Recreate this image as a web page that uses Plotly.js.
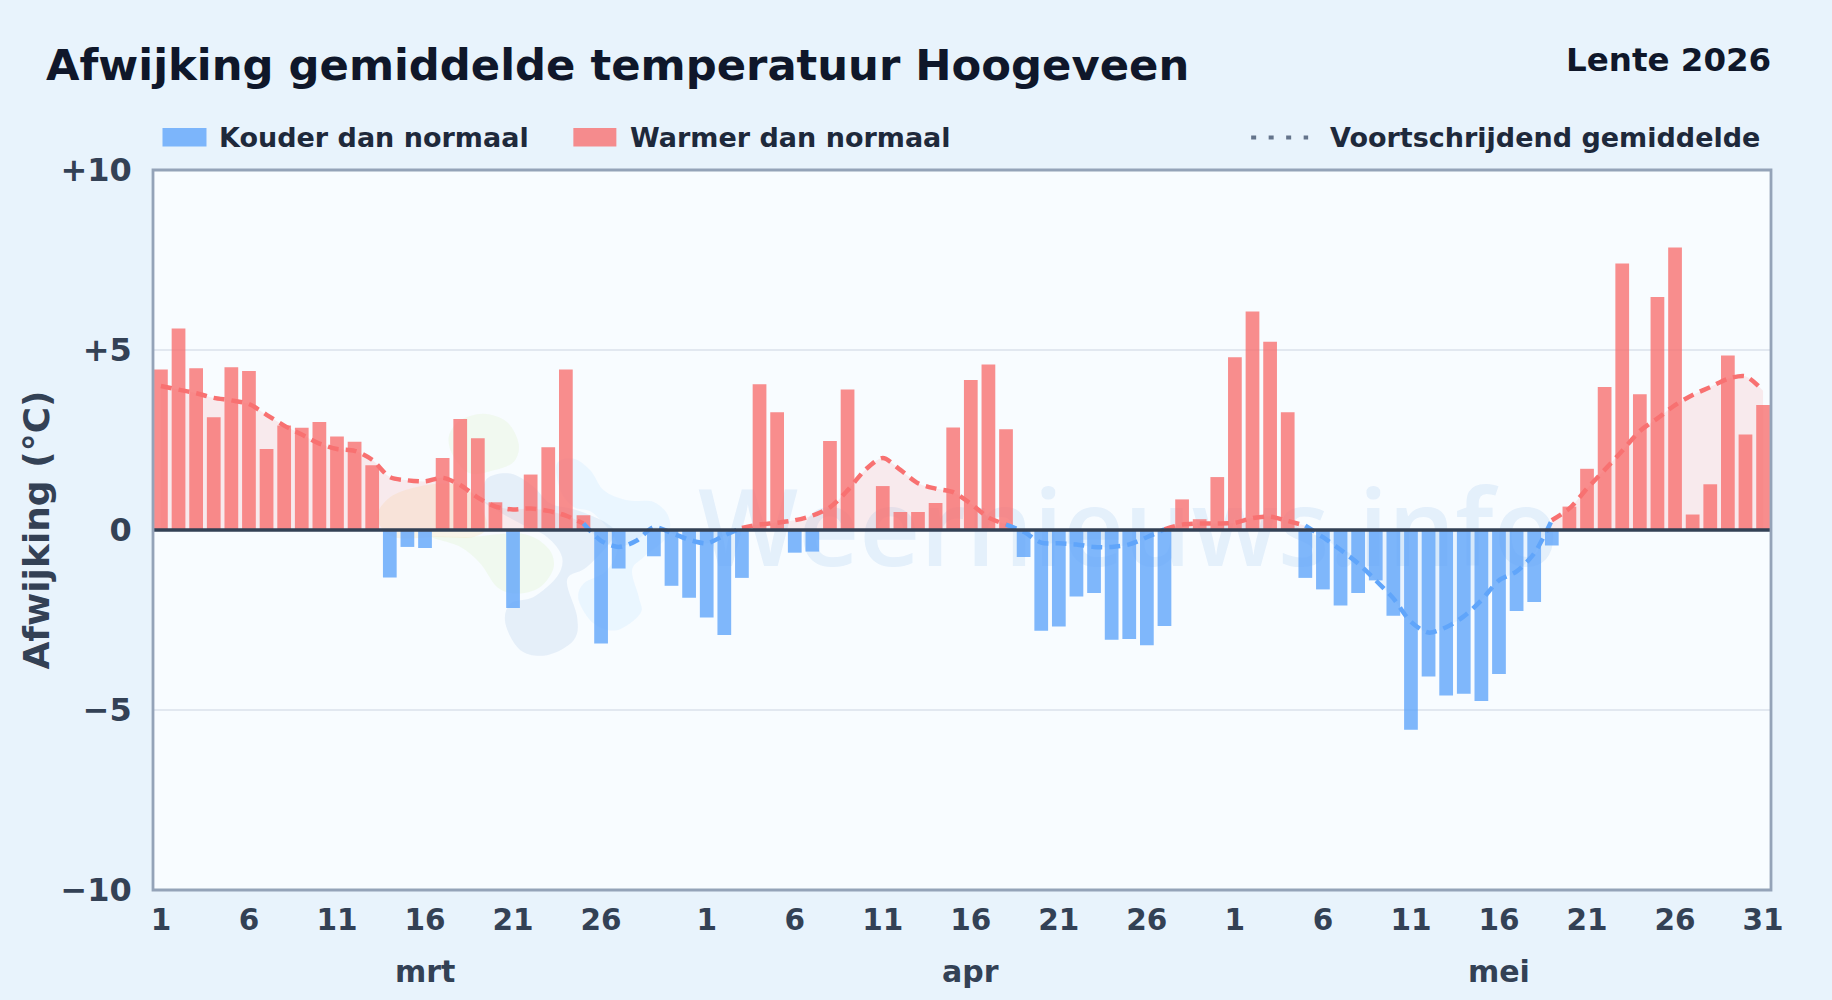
<!DOCTYPE html>
<html><head><meta charset="utf-8">
<script src="https://cdn.plot.ly/plotly-3.0.1.min.js"></script>
<style>html,body{margin:0;padding:0;background:#e8f3fc}#c{width:1832px;height:1000px}</style>
</head><body><div id="c"></div>
<script>
// Daily temperature deviation (°C), 1 March – 31 May
const anomalies = [
 4.46,5.60,4.49,3.13,4.52,4.42,2.25,2.90,2.84,3.00,2.60,2.45,1.80,-1.32,-0.47,-0.50,2.00,3.08,2.55,0.77,-2.17,1.54,2.30,4.46,0.41,-3.15,-1.07,0,-0.73,-1.55,-1.88,
 -2.43,-2.92,-1.33,4.05,3.27,-0.63,-0.60,2.47,3.90,0,1.22,0.50,0.50,0.75,2.85,4.17,4.60,2.80,-0.75,-2.80,-2.68,-1.85,-1.75,-3.05,-3.03,-3.20,-2.67,0.85,0.30,1.47,
 4.80,6.07,5.23,3.27,-1.33,-1.65,-2.10,-1.75,-1.40,-2.38,-5.55,-4.07,-4.60,-4.55,-4.75,-4.00,-2.25,-2.00,-0.43,0.65,1.70,3.97,7.40,3.77,6.47,7.85,0.43,1.27,4.85,2.65,3.47];
// Moving average read per day
const movingAvg = [
 4.0,3.9,3.8,3.67,3.6,3.5,3.2,2.9,2.65,2.4,2.25,2.2,1.95,1.47,1.38,1.35,1.45,1.25,0.9,0.65,0.57,0.6,0.53,0.4,0.18,-0.3,-0.47,-0.3,0.08,-0.08,-0.27,
 -0.37,-0.15,0.06,0.15,0.2,0.27,0.4,0.63,1.1,1.67,2.0,1.67,1.3,1.15,1.05,0.73,0.35,0.15,-0.05,-0.35,-0.37,-0.4,-0.47,-0.47,-0.4,-0.2,0.02,0.15,0.18,0.18,
 0.2,0.33,0.37,0.25,0.12,-0.2,-0.55,-0.93,-1.4,-1.9,-2.55,-2.85,-2.7,-2.4,-1.95,-1.4,-1.15,-0.65,0.27,0.6,1.15,1.67,2.2,2.75,3.1,3.47,3.75,3.97,4.2,4.27,3.87];
const xTickVals = [0,5,10,15,20,25,31,36,41,46,51,56,61,66,71,76,81,86,91];
const xTickText = ['1','6','11','16','21','26','1','6','11','16','21','26','1','6','11','16','21','26','31'];
const yTickVals = [10,5,0,-5,-10];
const yTickText = ['+10','+5','0','−5','−10'];
const monthNames = ['mrt','apr','mei'];
const monthCenters = [15,46,76];
const legendLabels = ['Kouder dan normaal','Warmer dan normaal','Voortschrijdend gemiddelde'];

const COLD='#60a5fa', WARM='#f87171';
const idx = anomalies.map((_,i)=>i);
const W=1832,H=1000,L=152.5,R=1771,T=169.5,B=890;
const px=x=>(x-L)/(R-L), py=y=>(B-y)/(B-T);
const F='"DejaVu Sans", sans-serif';

// split average into coloured runs: a step is blue when either end is below zero
function runs(test){
  const out=[];let cur=null;
  for(let i=0;i<movingAvg.length-1;i++){
    if(test(movingAvg[i],movingAvg[i+1])){
      if(!cur){cur={x:[i],y:[movingAvg[i]]};out.push(cur);}
      cur.x.push(i+1);cur.y.push(movingAvg[i+1]);
    } else cur=null;
  }
  return out;
}
const avgTrace=(r,color,fill)=>({type:'scatter',mode:'lines',x:r.x,y:r.y,fill:'tozeroy',fillcolor:fill,line:{color,width:4.5,shape:'spline',smoothing:0.8,dash:'11px,7px'},showlegend:false,hoverinfo:'skip',opacity:0.95});

const traces=[
 {type:'bar',x:idx,y:anomalies.map(v=>v<0?v:null),width:0.78,marker:{color:COLD,opacity:0.8,line:{width:0}},showlegend:false},
 {type:'bar',x:idx,y:anomalies.map(v=>v>=0?v:null),width:0.78,marker:{color:WARM,opacity:0.8,line:{width:0}},showlegend:false},
 ...runs((a,b)=>a>=0&&b>=0).map(r=>avgTrace(r,WARM,'rgba(248,113,113,0.13)')),
 ...runs((a,b)=>a<0||b<0).map(r=>avgTrace(r,COLD,'rgba(96,165,250,0.10)'))
];

// watermark logo: smooth closed blobs, outlines given in page pixels via a zoom-origin helper
const z=([a,b])=>[360+a/3,390+b/3];
function blob(zpts,fill){
  const p=zpts.map(z),n=p.length,f=q=>px(q[0]).toFixed(4)+','+py(q[1]).toFixed(4);
  let d='M'+f(p[0]);
  for(let i=0;i<n;i++){
    const a=p[(i-1+n)%n],b=p[i],c=p[(i+1)%n],e=p[(i+2)%n];
    const c1=[b[0]+(c[0]-a[0])/6,b[1]+(c[1]-a[1])/6],c2=[c[0]-(e[0]-b[0])/6,c[1]-(e[1]-b[1])/6];
    d+=' C'+f(c1)+' '+f(c2)+' '+f(c);
  }
  return {type:'path',xref:'paper',yref:'paper',layer:'below',fillcolor:fill,line:{width:0},path:d+' Z'};
}
const shapes=[
 blob([[590,220],[640,205],[690,240],[730,300],[800,330],[880,335],[925,380],[920,440],[850,500],[815,540],[835,620],[840,670],[770,720],[700,700],[655,630],[670,580],[740,540],[770,460],[700,370],[640,350],[600,300]],'rgba(205,232,255,0.32)'),
 blob([[370,330],[380,265],[450,250],[520,290],[570,340],[650,360],[740,400],[760,440],[680,530],[620,570],[650,680],[640,750],[560,795],[480,780],[435,700],[450,640],[520,620],[590,560],[605,500],[560,440],[480,400],[410,360]],'rgba(185,210,235,0.30)'),
 blob([[265,140],[300,90],[370,70],[440,95],[475,160],[460,215],[400,240],[330,250],[280,200]],'rgba(225,242,205,0.30)'),
 blob([[215,440],[330,440],[480,430],[560,470],[580,530],[540,590],[470,610],[410,590],[360,520],[300,470]],'rgba(225,242,205,0.32)'),
 blob([[50,380],[90,320],[170,290],[260,280],[330,300],[380,400],[340,440],[230,440],[100,440]],'rgba(250,228,190,0.35)'),
 // watermark wordmark sits beneath the bars
 {type:'rect',xref:'paper',yref:'paper',layer:'below',x0:px(700),x1:px(1556),y0:py(472),y1:py(592),fillcolor:'rgba(0,0,0,0)',line:{width:0},
  label:{text:'Weernieuws.info',textposition:'middle center',font:{family:'"Open Sans", sans-serif',size:106,color:'rgba(170,205,240,0.26)',weight:600}}},
 // zero line on top of the bars
 {type:'line',xref:'paper',yref:'y',x0:0,x1:1,y0:0,y1:0,layer:'above',line:{color:'#334155',width:3.5}},
 // plot frame, centred on the plot edges
 {type:'rect',xref:'paper',yref:'paper',x0:0,x1:1,y0:0,y1:1,layer:'above',fillcolor:'rgba(0,0,0,0)',line:{color:'#94a3b8',width:2.8}},
 // legend keys
 {type:'rect',xref:'paper',yref:'paper',x0:px(162),x1:px(206),y0:py(127.5),y1:py(146),fillcolor:COLD,opacity:0.8,line:{width:0}},
 {type:'rect',xref:'paper',yref:'paper',x0:px(573),x1:px(616),y0:py(127.5),y1:py(146),fillcolor:WARM,opacity:0.8,line:{width:0}},
 {type:'line',xref:'paper',yref:'paper',x0:px(1251),x1:px(1308),y0:py(137),y1:py(137),line:{color:'#64748b',width:4,dash:'5px,12.5px'}}
];

const ann=(text,x,y,size,color,anchor)=>({text,x,y,xref:'paper',yref:'paper',xanchor:anchor||'left',yanchor:'middle',showarrow:false,font:{family:F,size,color,weight:700}});
const annotations=[
 ann('Lente 2026',px(1773),py(59.5),32.5,'#0f172a','right'),
 ann(legendLabels[0],px(217),py(137),27,'#1e293b'),
 ann(legendLabels[1],px(628),py(137),27,'#1e293b'),
 ann(legendLabels[2],px(1327.5),py(137),27,'#1e293b'),
 ...monthNames.map((m,i)=>({text:m,x:monthCenters[i],xref:'x',y:py(972),yref:'paper',xanchor:'center',yanchor:'middle',showarrow:false,font:{family:F,size:30,color:'#334155',weight:700}}))
];

const layout={
 width:W,height:H,paper_bgcolor:'#e8f3fc',plot_bgcolor:'#f8fcff',
 margin:{l:L,r:W-R,t:T,b:H-B,pad:0},
 barmode:'overlay',showlegend:false,
 title:{text:'Afwijking gemiddelde temperatuur Hoogeveen',x:46/W,xanchor:'left',xref:'container',y:1-65/H,yref:'container',yanchor:'middle',font:{family:F,size:43.3,color:'#0f172a',weight:700}},
 xaxis:{range:[-0.45,91.45],tickmode:'array',tickvals:xTickVals,ticktext:xTickText,showgrid:false,zeroline:false,showline:true,linecolor:'rgba(0,0,0,0)',linewidth:2.5,ticks:'',tickfont:{family:F,size:29.5,color:'#334155',weight:700},ticklabelstandoff:2},
 yaxis:{range:[-10,10],tickmode:'array',tickvals:yTickVals,ticktext:yTickText,showgrid:true,gridcolor:'#e2e8f0',gridwidth:2,zeroline:false,showline:true,linecolor:'rgba(0,0,0,0)',linewidth:2.5,ticks:'',ticklabelstandoff:12,tickfont:{family:F,size:32,color:'#334155',weight:700},
  title:{text:'Afwijking (°C)',standoff:0,font:{family:F,size:36,color:'#334155',weight:700}}},
 shapes,annotations,hovermode:false
};
Plotly.newPlot('c',traces,layout,{displayModeBar:false,responsive:false});
</script></body></html>
